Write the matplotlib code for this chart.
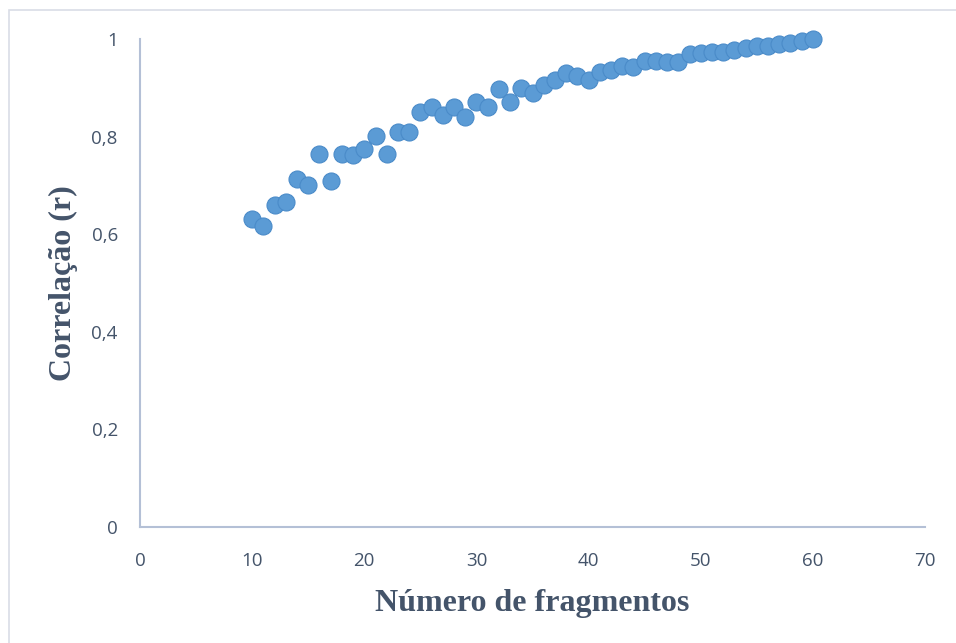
import matplotlib
matplotlib.use("Agg")
import matplotlib.pyplot as plt
from matplotlib.patches import Rectangle
from matplotlib.ticker import FuncFormatter

x_vals = list(range(10, 61))
r_vals = [0.631, 0.617, 0.660, 0.666, 0.713, 0.701, 0.764, 0.709, 0.764, 0.762,
          0.775, 0.801, 0.764, 0.809, 0.809, 0.850, 0.861, 0.844, 0.861, 0.840,
          0.871, 0.861, 0.898, 0.871, 0.900, 0.889, 0.906, 0.916, 0.930, 0.924,
          0.916, 0.932, 0.936, 0.945, 0.943, 0.955, 0.955, 0.953, 0.953, 0.969,
          0.971, 0.973, 0.973, 0.977, 0.982, 0.986, 0.986, 0.990, 0.992, 0.996,
          1.000]
x_ticks = [0, 10, 20, 30, 40, 50, 60, 70]
y_ticks = [0, 0.2, 0.4, 0.6, 0.8, 1.0]

fig = plt.figure(figsize=(9.56, 6.43), dpi=100)
fig.patch.set_facecolor("white")
fig.patches.append(Rectangle((9/956, -0.05), 1.2, 1 - 10/643 + 0.05,
                             transform=fig.transFigure, fill=False,
                             edgecolor="#D9DDE6", linewidth=1.2))
ax = fig.add_axes([140/956, 1 - 527/643, (925 - 140)/956, (527 - 39)/643])

ax.scatter(x_vals, r_vals, s=150, color="#5B9BD5", edgecolors="#4A8BC9",
           linewidths=0.8, zorder=3, clip_on=False)

ax.set_xlim(0, 70)
ax.set_ylim(0, 1)
ax.set_xticks(x_ticks)
ax.set_yticks(y_ticks)
ax.yaxis.set_major_formatter(FuncFormatter(
    lambda v, p: "0" if v == 0 else ("1" if v == 1 else f"{v:.1f}".replace(".", ","))))

for s in ["top", "right"]:
    ax.spines[s].set_visible(False)
for s in ["left", "bottom"]:
    ax.spines[s].set_color("#B4C0D6")
    ax.spines[s].set_linewidth(1.5)

ax.tick_params(axis="both", length=0, labelsize=13.5, labelcolor="#44546A",
               labelfontfamily="Open Sans")
ax.tick_params(axis="x", pad=18)
ax.tick_params(axis="y", pad=16)

ax.set_xlabel("Número de fragmentos", family="Liberation Serif", fontweight="bold",
              fontsize=23, color="#44546A", labelpad=14)
ax.set_ylabel("Correlação (r)", family="Liberation Serif", fontweight="bold",
              fontsize=23, color="#44546A", labelpad=10)

fig.savefig("out.png", dpi=100, facecolor="white")
